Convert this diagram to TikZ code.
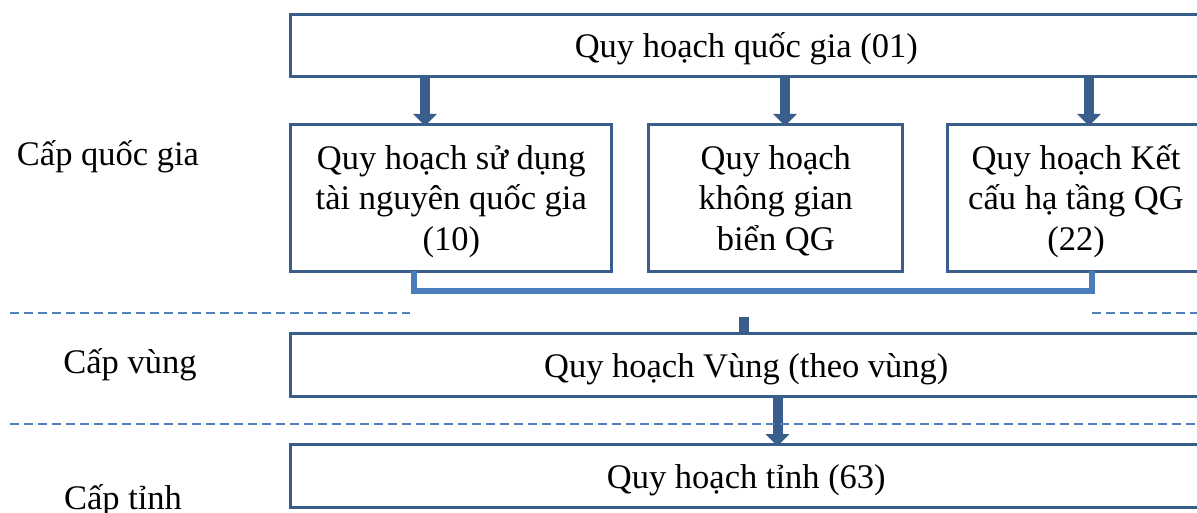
\documentclass[tikz,border=0pt]{standalone}
\usepackage{fontspec}
\setmainfont{Liberation Serif}
\usetikzlibrary{arrows.meta}
\definecolor{frame}{RGB}{58,94,140}
\definecolor{link}{RGB}{74,126,187}
\definecolor{rule}{RGB}{79,129,189}
\begin{document}
\begin{tikzpicture}[x=1pt,y=-1pt,
  box/.style={draw=frame,line width=3pt,inner sep=0pt,outer sep=0pt,align=center,
    font=\fontsize{34.5}{40.3}\selectfont,text height=30pt,text depth=6pt},
  tallbox/.style={box,text height=110.6pt},
  level/.style={anchor=base,font=\fontsize{34.5}{40.3}\selectfont},
  down/.style={draw=frame,line width=10pt,-{Triangle[width=23pt,length=12pt]}},
  bar/.style={draw=frame,line width=10pt},
  bracket/.style={draw=link,line width=6pt},
  sep/.style={draw=rule,line width=2.2pt,dash pattern=on 9pt off 5pt}]
\useasboundingbox (0,0) rectangle (1197,513);
\clip (0,0) rectangle (1197,513);

% national level
\node[box,minimum width=911pt,minimum height=61.5pt] (qg) at (746.3,45.75) {Quy hoạch quốc gia (01)};
\node[tallbox,minimum width=321.3pt,minimum height=146.5pt] (tn) at (451.3,197.75)
  {Quy hoạch sử dụng\\tài nguyên quốc gia\\(10)};
\node[tallbox,minimum width=254.3pt,minimum height=146.5pt] (bien) at (775.8,197.75)
  {Quy hoạch\\không gian\\biển QG};
\node[tallbox,minimum width=258pt,minimum height=146.5pt] (kc) at (1076,197.75)
  {Quy hoạch Kết\\cấu hạ tầng QG\\(22)};

% regional and provincial levels
\node[box,minimum width=911pt,minimum height=63.4pt] (vung) at (746.3,365) {Quy hoạch Vùng (theo vùng)};
\node[box,minimum width=911pt,minimum height=63.3pt] (tinh) at (746.3,476.3) {Quy hoạch tỉnh (63)};

% level labels
\node[level] (lqg) at (108,166) {Cấp quốc gia};
\node[level] (lv) at (130,373) {Cấp vùng};
\node[level] (lt) at (123,509) {Cấp tỉnh};

% arrows from the national plan
\draw[down] (qg.south -| 425,0) -- ([yshift=-1.5pt]tn.north -| 425,0);
\draw[down] (qg.south -| 785,0) -- ([yshift=-1.5pt]bien.north -| 785,0);
\draw[down] (qg.south -| 1089,0) -- ([yshift=-1.5pt]kc.north -| 1089,0);

% bracket joining the sector plans
\draw[bracket] (tn.south -| 414,0) -- (414,291) -- (1092,291) -- (kc.south -| 1092,0);
\draw[bar] (744,317) -- (vung.north -| 744,0);

% region to province
\draw[down] (vung.south -| 777.5,0) -- ([yshift=-1.5pt]tinh.north -| 777.5,0);

% level separators
\draw[sep] (10,313) -- (410,313);
\draw[sep] (1092,313) -- (1197,313);
\draw[sep] (10,424) -- (1197,424);
\end{tikzpicture}
\end{document}
